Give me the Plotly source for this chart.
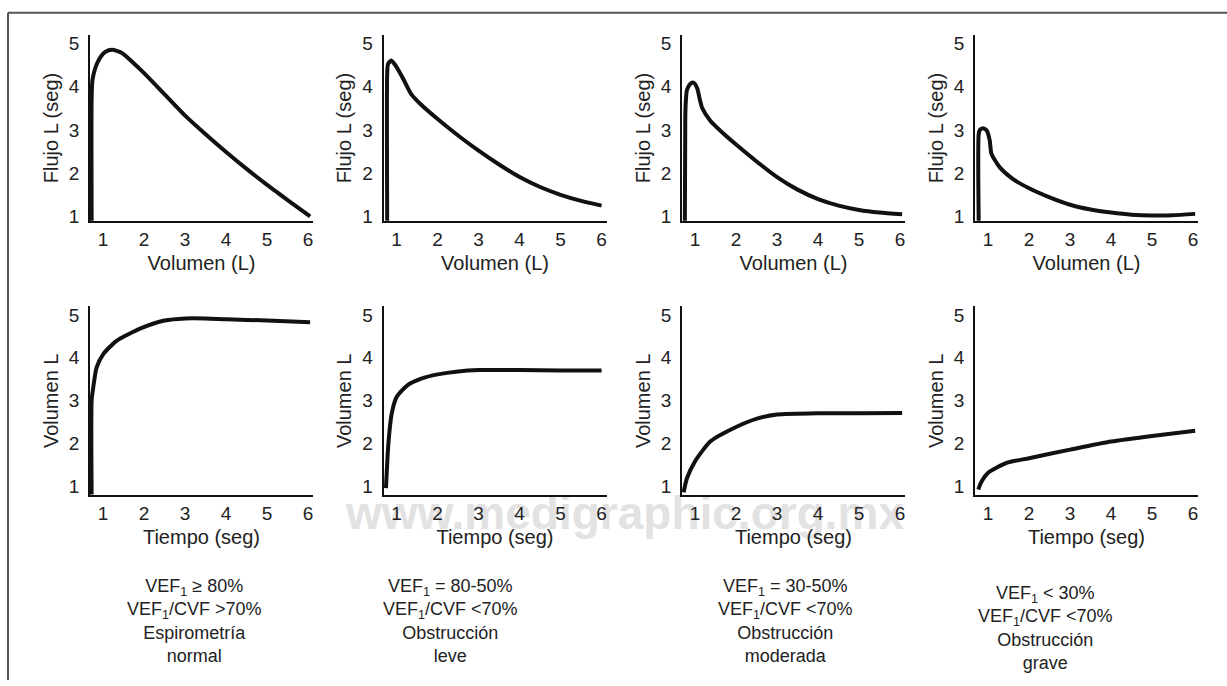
import plotly.graph_objects as go

W, H = 1227, 686

# ---------------- data ----------------
# Flow-volume curves (top row): x = Volumen (L), y = Flujo L (seg)
fv_normal_x = [0.72, 0.72, 0.74, 0.80, 0.86, 0.95, 1.05, 1.22, 1.45, 1.70, 2.00, 2.50, 3.00, 3.50, 4.00, 4.50, 5.00, 5.50, 6.05]
fv_normal_y = [0.90, 3.74, 4.15, 4.40, 4.55, 4.70, 4.80, 4.85, 4.78, 4.58, 4.31, 3.82, 3.33, 2.90, 2.49, 2.10, 1.73, 1.38, 1.00]

fv_leve_x = [0.77, 0.77, 0.79, 0.87, 0.98, 1.15, 1.36, 1.60, 2.00, 2.50, 3.00, 3.50, 4.00, 4.50, 5.00, 5.50, 6.00]
fv_leve_y = [0.90, 4.30, 4.52, 4.60, 4.48, 4.20, 3.82, 3.58, 3.25, 2.87, 2.52, 2.20, 1.91, 1.68, 1.50, 1.36, 1.25]

fv_mod_x = [0.75, 0.76, 0.77, 0.80, 0.88, 0.96, 1.05, 1.12, 1.17, 1.37, 1.65, 2.00, 2.50, 3.00, 3.50, 4.00, 4.50, 5.00, 5.50, 6.05]
fv_mod_y = [0.90, 3.29, 3.60, 3.92, 4.06, 4.09, 3.96, 3.68, 3.51, 3.21, 2.95, 2.66, 2.27, 1.91, 1.62, 1.40, 1.25, 1.15, 1.09, 1.05]

fv_grave_x = [0.77, 0.77, 0.80, 0.88, 0.97, 1.04, 1.08, 1.28, 1.60, 2.00, 2.50, 3.00, 3.50, 4.00, 4.50, 5.00, 5.50, 6.05]
fv_grave_y = [0.90, 2.90, 3.00, 3.04, 2.98, 2.75, 2.45, 2.14, 1.87, 1.65, 1.44, 1.27, 1.16, 1.09, 1.04, 1.02, 1.03, 1.06]

# Volume-time curves (bottom row): x = Tiempo (seg), y = Volumen L
vt_normal_x = [0.72, 0.72, 0.76, 0.84, 1.00, 1.32, 1.93, 2.50, 3.00, 3.50, 4.00, 5.00, 6.05]
vt_normal_y = [0.80, 3.00, 3.31, 3.77, 4.08, 4.39, 4.69, 4.87, 4.92, 4.92, 4.90, 4.87, 4.83]

vt_leve_x = [0.74, 0.80, 0.88, 1.00, 1.27, 1.60, 2.00, 2.50, 3.00, 4.00, 5.00, 6.00]
vt_leve_y = [0.95, 2.00, 2.69, 3.08, 3.36, 3.51, 3.61, 3.68, 3.71, 3.71, 3.70, 3.70]

vt_mod_x = [0.72, 0.80, 1.00, 1.37, 2.00, 2.53, 3.00, 4.00, 5.00, 6.05]
vt_mod_y = [0.85, 1.18, 1.58, 2.04, 2.38, 2.58, 2.67, 2.70, 2.70, 2.71]

vt_grave_x = [0.76, 0.85, 1.00, 1.45, 2.00, 3.00, 4.00, 5.00, 6.05]
vt_grave_y = [0.92, 1.12, 1.31, 1.54, 1.65, 1.85, 2.04, 2.17, 2.29]

x_ticks = [1, 2, 3, 4, 5, 6]
y_ticks = [1, 2, 3, 4, 5]

top_xtitle = "Volumen (L)"
top_ytitle = "Flujo L (seg)"
bot_xtitle = "Tiempo (seg)"
bot_ytitle = "Volumen L"

captions = [
    "VEF<sub>1</sub> ≥ 80%<br>VEF<sub>1</sub>/CVF &gt;70%<br>Espirometría<br>normal",
    "VEF<sub>1</sub> = 80-50%<br>VEF<sub>1</sub>/CVF &lt;70%<br>Obstrucción<br>leve",
    "VEF<sub>1</sub> = 30-50%<br>VEF<sub>1</sub>/CVF &lt;70%<br>Obstrucción<br>moderada",
    "VEF<sub>1</sub> &lt; 30%<br>VEF<sub>1</sub>/CVF &lt;70%<br>Obstrucción<br>grave",
]
watermark = "www.medigraphic.org.mx"

# ---------------- layout geometry (pixels) ----------------
FONT = "Liberation Sans, Arial, Helvetica, sans-serif"
TXT = "#222222"
panel_left_px = [90, 383.5, 682, 975]
panel_w_px = 223
top_px = (33, 222)
bot_px = (308, 499)
x_range = [0.68, 6.12]
top_yrange = [0.886, 5.2]
bot_yrange = [0.785, 5.2]
caption_cx_px = [194, 450, 785, 1045]
caption_cy_px = [626, 626, 626, 633]

series = [
    (fv_normal_x, fv_normal_y), (fv_leve_x, fv_leve_y), (fv_mod_x, fv_mod_y), (fv_grave_x, fv_grave_y),
    (vt_normal_x, vt_normal_y), (vt_leve_x, vt_leve_y), (vt_mod_x, vt_mod_y), (vt_grave_x, vt_grave_y),
]

fig = go.Figure()
layout = dict(
    width=W, height=H,
    margin=dict(l=0, r=0, t=0, b=0),
    paper_bgcolor="white", plot_bgcolor="rgba(0,0,0,0)",
    showlegend=False,
    font=dict(family=FONT, size=18, color=TXT),
)

for i, (xs, ys) in enumerate(series):
    row = i // 4
    col = i % 4
    n = i + 1
    xa = "x" if n == 1 else f"x{n}"
    ya = "y" if n == 1 else f"y{n}"
    fig.add_trace(go.Scatter(
        x=xs, y=ys, mode="lines", xaxis=xa, yaxis=ya,
        line=dict(color="#111111", width=4, shape="spline", smoothing=0.6),
        hoverinfo="skip",
    ))
    l = panel_left_px[col] / W
    r = (panel_left_px[col] + panel_w_px) / W
    p0, p1 = top_px if row == 0 else bot_px
    yd = [1 - p1 / H, 1 - p0 / H]
    key_x = "xaxis" if n == 1 else f"xaxis{n}"
    key_y = "yaxis" if n == 1 else f"yaxis{n}"
    layout[key_x] = dict(
        domain=[l, r], anchor=ya, range=x_range,
        showgrid=False, zeroline=False, showline=True,
        linecolor="#111111", linewidth=2,
        tickmode="array", tickvals=x_ticks,
        ticks="outside", ticklen=0, tickcolor="rgba(0,0,0,0)",
        tickfont=dict(family=FONT, size=19, color=TXT),
        title=dict(text=top_xtitle if row == 0 else bot_xtitle,
                   font=dict(family=FONT, size=20, color=TXT), standoff=7),
        fixedrange=True,
    )
    layout[key_y] = dict(
        domain=yd, anchor=xa, range=top_yrange if row == 0 else bot_yrange,
        showgrid=False, zeroline=False, showline=True,
        linecolor="#111111", linewidth=1.5,
        tickmode="array", tickvals=y_ticks,
        ticks="outside", ticklen=5, tickcolor="rgba(0,0,0,0)",
        tickfont=dict(family=FONT, size=19, color=TXT),
        title=dict(text=top_ytitle if row == 0 else bot_ytitle,
                   font=dict(family=FONT, size=20, color=TXT), standoff=5),
        fixedrange=True,
    )

annotations = []
for cap, cx, cy in zip(captions, caption_cx_px, caption_cy_px):
    annotations.append(dict(
        text=cap, xref="paper", yref="paper", x=cx / W, y=1 - cy / H,
        xanchor="center", yanchor="middle", showarrow=False, align="center",
        font=dict(family=FONT, size=18, color=TXT),
    ))
layout["annotations"] = annotations

shapes = [
    # figure frame (top and left)
    dict(type="line", xref="paper", yref="paper", x0=8 / W, x1=1.0, y0=1 - 11 / H, y1=1 - 11 / H,
         line=dict(color="#555555", width=2)),
    dict(type="line", xref="paper", yref="paper", x0=8 / W, x1=8 / W, y0=0, y1=1 - 11 / H,
         line=dict(color="#555555", width=2)),
    # watermark, drawn below everything
    dict(type="rect", xref="paper", yref="paper", x0=345 / W, x1=905 / W, y0=1 - 535 / H, y1=1 - 490 / H,
         line=dict(width=0), fillcolor="rgba(0,0,0,0)", layer="below",
         label=dict(text=watermark, textposition="middle center",
                    font=dict(family=FONT, size=46, color="#e2e2e2", weight="bold"))),
]
layout["shapes"] = shapes

fig.update_layout(**layout)
fig.write_html(
    "out.html",
    config={"displayModeBar": False},
    post_script="document.body.style.margin='0';document.body.style.overflow='hidden';",
)
